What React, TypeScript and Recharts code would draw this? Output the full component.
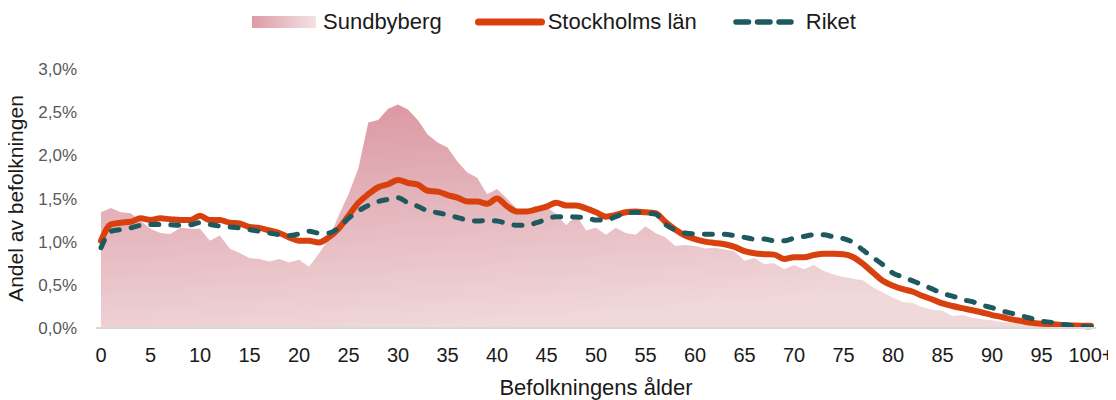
import { Area, ComposedChart, Line, XAxis, YAxis } from "recharts";

// ålder 0..100 (100 = 100+)
const ages = Array.from({ length: 101 }, (_, i) => i);

const sundbyberg = [
  1.34, 1.39, 1.34, 1.33, 1.24, 1.15, 1.1, 1.09, 1.16, 1.15,
  1.15, 1.01, 1.07, 0.92, 0.87, 0.81, 0.8, 0.77, 0.8, 0.76,
  0.79, 0.71, 0.86, 1.03, 1.3, 1.55, 1.85, 2.38, 2.41, 2.54,
  2.59, 2.53, 2.41, 2.24, 2.15, 2.09, 1.93, 1.8, 1.74, 1.55,
  1.61, 1.5, 1.38, 1.33, 1.36, 1.4, 1.32, 1.19, 1.31, 1.13,
  1.16, 1.08, 1.16, 1.1, 1.08, 1.18, 1.1, 1.05, 0.95, 0.96,
  0.95, 0.92, 0.93, 0.91, 0.89, 0.78, 0.81, 0.74, 0.75, 0.68,
  0.73, 0.68, 0.73, 0.66, 0.62, 0.59, 0.57, 0.55, 0.47, 0.41,
  0.35, 0.3, 0.29, 0.24, 0.21, 0.2, 0.14, 0.15, 0.12, 0.1,
  0.09, 0.07, 0.06, 0.05, 0.04, 0.03, 0.02, 0.015, 0.01, 0.01,
  0.01,
];

const stockholmsLan = [
  1.01, 1.2, 1.22, 1.23, 1.27, 1.25, 1.27, 1.26, 1.25, 1.25,
  1.3, 1.25, 1.25, 1.22, 1.21, 1.17, 1.16, 1.13, 1.1, 1.05,
  1.01, 1.01, 0.99, 1.05, 1.15, 1.3, 1.45, 1.55, 1.63, 1.665,
  1.715, 1.68, 1.66, 1.59, 1.58, 1.54, 1.51, 1.465, 1.465, 1.44,
  1.5, 1.41, 1.35, 1.35, 1.375, 1.405, 1.45, 1.42, 1.42, 1.385,
  1.34, 1.29, 1.31, 1.34, 1.35, 1.34, 1.33, 1.23, 1.14, 1.07,
  1.03, 1.0, 0.985, 0.97, 0.94, 0.89, 0.865, 0.855, 0.85, 0.8,
  0.82, 0.82, 0.845, 0.86, 0.86, 0.855, 0.82, 0.74, 0.64, 0.545,
  0.49, 0.45, 0.42, 0.37, 0.33, 0.285, 0.255, 0.23, 0.205, 0.18,
  0.15, 0.127, 0.1, 0.08, 0.06, 0.05, 0.045, 0.035, 0.03, 0.025,
  0.025,
];

const riket = [
  0.93, 1.12, 1.14, 1.16, 1.19, 1.2, 1.2, 1.195, 1.19, 1.195,
  1.22, 1.2, 1.18, 1.17, 1.16, 1.14, 1.12, 1.1, 1.08, 1.07,
  1.09, 1.12, 1.1, 1.1, 1.16, 1.27, 1.355, 1.42, 1.465, 1.49,
  1.51, 1.45, 1.41, 1.355, 1.335, 1.31, 1.28, 1.25, 1.24, 1.245,
  1.24, 1.21, 1.19, 1.19, 1.22, 1.26, 1.29, 1.29, 1.285, 1.28,
  1.25, 1.25, 1.29, 1.33, 1.34, 1.33, 1.32, 1.2, 1.135, 1.1,
  1.09, 1.085, 1.085, 1.085, 1.07, 1.05, 1.03, 1.03, 1.01, 1.01,
  1.04, 1.06, 1.08, 1.08, 1.055, 1.035, 0.99, 0.9, 0.815, 0.73,
  0.635, 0.59, 0.545, 0.5, 0.45, 0.4, 0.37, 0.33, 0.305, 0.265,
  0.235, 0.197, 0.17, 0.14, 0.11, 0.08, 0.065, 0.045, 0.03, 0.02,
  0.015,
];

const xTicks = [0, 5, 10, 15, 20, 25, 30, 35, 40, 45, 50, 55, 60, 65, 70, 75, 80, 85, 90, 95, 100];
const yTicks = [0, 0.5, 1, 1.5, 2, 2.5, 3];

const data = ages.map((age, i) => ({
  age,
  sundbyberg: sundbyberg[i],
  stockholm: stockholmsLan[i],
  riket: riket[i],
}));

const FONT = "'Liberation Sans', Arial, sans-serif";
const ORANGE = "#d8400e";
const TEAL = "#1e5960";

function ChartLegend() {
  const text = { fontSize: 22, color: "#1a1a1a", lineHeight: "26px", whiteSpace: "nowrap" as const };
  return (
    <div
      style={{
        position: "absolute",
        top: 9,
        left: 252,
        display: "flex",
        alignItems: "center",
        fontFamily: FONT,
      }}
    >
      <svg width={64} height={12} style={{ marginRight: 7 }}>
        <defs>
          <linearGradient id="legendArea" x1="0" x2="1" y1="0" y2="0">
            <stop offset="0%" stopColor="#dc9ba5" />
            <stop offset="100%" stopColor="#f3e2e4" />
          </linearGradient>
        </defs>
        <rect width={64} height={12} fill="url(#legendArea)" />
      </svg>
      <span style={text}>Sundbyberg</span>
      <svg width={70} height={8} style={{ marginLeft: 33, marginRight: 3 }}>
        <line x1={3.5} y1={4} x2={66.5} y2={4} stroke={ORANGE} strokeWidth={7} strokeLinecap="round" />
      </svg>
      <span style={text}>Stockholms län</span>
      <svg width={61} height={6} style={{ marginLeft: 36, marginRight: 12 }}>
        <line x1={3} y1={3} x2={58} y2={3} stroke={TEAL} strokeWidth={5.5} strokeLinecap="round" strokeDasharray="12.5 9" />
      </svg>
      <span style={text}>Riket</span>
    </div>
  );
}

export default function App() {
  return (
    <div style={{ position: "relative", width: 1116, height: 400, margin: "-8px 0 0 -8px", fontFamily: FONT }}>
      <ChartLegend />
      <ComposedChart width={1116} height={400} data={data} margin={{ top: 69, right: 20, bottom: 0, left: 0 }}>
        <defs>
          <linearGradient id="sundbybergFill" x1="0" y1="0" x2="0.35" y2="1">
            <stop offset="0%" stopColor="#d9939e" />
            <stop offset="100%" stopColor="#f0d8db" />
          </linearGradient>
        </defs>
        <XAxis
          dataKey="age"
          type="number"
          domain={[0, 100]}
          ticks={xTicks}
          interval={0}
          padding={{ left: 5, right: 5 }}
          height={72}
          tickLine={false}
          tickSize={0}
          tickMargin={20}
          axisLine={{ stroke: "#d9d9d9", strokeWidth: 2 }}
          tick={{ fill: "#1a1a1a", fontSize: 20, fontFamily: FONT }}
          tickFormatter={(v: number) => (v === 100 ? "100+" : String(v))}
          label={{
            value: "Befolkningens ålder",
            position: "insideBottom",
            offset: 5,
            fill: "#1a1a1a",
            fontSize: 22,
            fontFamily: FONT,
          }}
        />
        <YAxis
          width={96}
          domain={[0, 3]}
          ticks={yTicks}
          interval={0}
          axisLine={false}
          tickLine={false}
          tickSize={0}
          tickMargin={19}
          tick={{ fill: "#595959", fontSize: 17, fontFamily: FONT }}
          tickFormatter={(v: number) => v.toFixed(1).replace(".", ",") + "%"}
          label={{
            value: "Andel av befolkningen",
            angle: -90,
            position: "insideLeft",
            offset: 16,
            fill: "#1a1a1a",
            fontSize: 21,
            fontFamily: FONT,
            style: { textAnchor: "middle" },
          }}
        />
        <Area
          type="linear"
          dataKey="sundbyberg"
          name="Sundbyberg"
          stroke="none"
          fill="url(#sundbybergFill)"
          fillOpacity={1}
          isAnimationActive={false}
        />
        <Line
          type="monotone"
          dataKey="stockholm"
          name="Stockholms län"
          stroke={ORANGE}
          strokeWidth={6}
          strokeLinecap="round"
          strokeLinejoin="round"
          dot={false}
          activeDot={false}
          isAnimationActive={false}
        />
        <Line
          type="monotone"
          dataKey="riket"
          name="Riket"
          stroke={TEAL}
          strokeWidth={5}
          strokeDasharray="8 12"
          strokeLinecap="round"
          dot={false}
          activeDot={false}
          isAnimationActive={false}
        />
      </ComposedChart>
    </div>
  );
}
